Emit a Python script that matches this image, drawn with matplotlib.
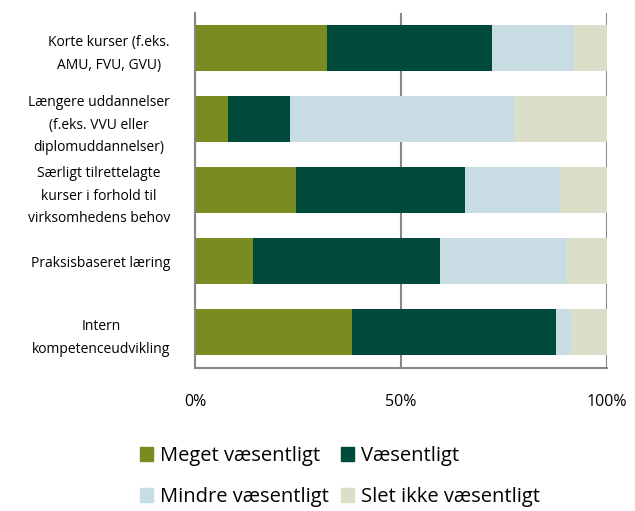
import numpy as np
from matplotlib import pyplot as plt
from matplotlib.patches import Patch

plt.rcParams['font.family'] = ['Open Sans', 'DejaVu Sans']

categories = [
    'Korte kurser (f.eks.\nAMU, FVU, GVU)',
    'Længere uddannelser\n(f.eks. VVU eller\ndiplomuddannelser)',
    'Særligt tilrettelagte\nkurser i forhold til\nvirksomhedens behov',
    'Praksisbaseret læring',
    'Intern\nkompetenceudvikling',
]
series = ['Meget væsentligt', 'Væsentligt', 'Mindre væsentligt', 'Slet ikke væsentligt']
meget = [32, 8, 24.5, 14, 38]
vaes = [40, 15, 41, 45.5, 49.5]
mindre = [20, 54.5, 23, 30.5, 4]
slet = [8, 22.5, 11.5, 10, 8.5]
colors = ['#788c21', '#004a3c', '#c8dce4', '#dbdec8']

fig = plt.figure(figsize=(6.35, 5.11), dpi=100)
ax = fig.add_axes([0.307, 0.280, 0.649, 0.695])

y = np.arange(len(categories))
left = np.zeros(len(categories))
for vals, col in zip([meget, vaes, mindre, slet], colors):
    ax.barh(y, vals, left=left, height=0.65, color=col, zorder=2)
    left += np.array(vals)

ax.set_ylim(len(categories) - 0.5, -0.5)
ax.set_xlim(0, 100)
ax.set_xticks([0, 50, 100])
ax.set_xticklabels(['0%', '50%', '100%'], fontsize=11.5)
ax.tick_params(axis='x', length=0, pad=19)
ax.set_yticks(y)
ax.set_yticklabels(categories, fontsize=10, multialignment='center', linespacing=1.7)
ax.tick_params(axis='y', length=0, pad=18)
ax.grid(axis='x', color='#868686', linewidth=1.5, zorder=1)
for s in ['top', 'right']:
    ax.spines[s].set_visible(False)
for s in ['left', 'bottom']:
    ax.spines[s].set_color('#868686')
    ax.spines[s].set_linewidth(1.5)

# legend fills column-wise, so reorder to get rows: Meget/Væsentligt, Mindre/Slet
order = [0, 2, 1, 3]
handles = [Patch(color=colors[i], label=series[i]) for i in order]
fig.legend(handles=handles, ncol=2, loc='upper left', bbox_to_anchor=(0.205, 0.147),
           frameon=False, fontsize=14.5, handlelength=0.65, handleheight=0.65,
           handletextpad=0.35, columnspacing=0.6, labelspacing=1.05, borderpad=0)

fig.savefig('out.png', dpi=100)
